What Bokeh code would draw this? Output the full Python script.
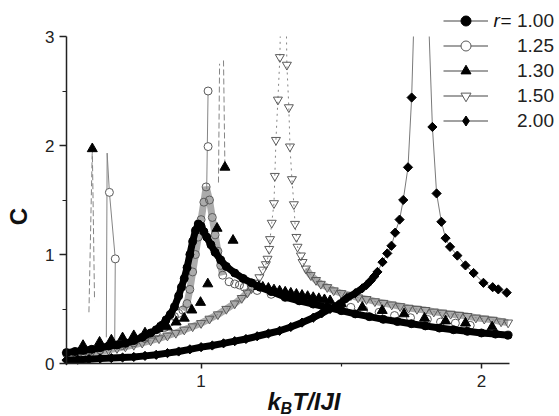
import numpy as np
from bokeh.plotting import figure
from bokeh.models import Range1d, FixedTicker, Legend, LegendItem, Label, LinearAxis
from bokeh.embed import file_html
from bokeh.resources import INLINE

# ---------------- data ----------------
x_ticks = [1, 2]
x_minor = [1.5]
y_ticks = [0, 1, 2, 3]
y_minor = [0.5, 1.5, 2.5]
x_lo, x_hi = 0.52, 2.1
y_lo, y_hi = 0.0, 3.0
series_labels = ["1.00", "1.25", "1.30", "1.50", "2.00"]

r100_x = [0.52, 0.55, 0.58, 0.61, 0.64, 0.67, 0.70, 0.73, 0.76, 0.79,
          0.82, 0.84, 0.86, 0.875, 0.89, 0.905, 0.92, 0.93, 0.94, 0.95,
          0.96, 0.97, 0.98, 0.99, 1.00, 1.01, 1.02, 1.035, 1.05, 1.07,
          1.09, 1.12, 1.15, 1.18, 1.21, 1.25, 1.30, 1.35, 1.40, 1.45,
          1.50, 1.55, 1.60, 1.65, 1.70, 1.75, 1.80, 1.85, 1.90, 1.95,
          2.00, 2.05, 2.095]
r100_y = [0.10, 0.11, 0.12, 0.13, 0.145, 0.16, 0.17, 0.185, 0.21, 0.24,
          0.28, 0.31, 0.35, 0.40, 0.45, 0.52, 0.62, 0.70, 0.78, 0.88,
          1.00, 1.12, 1.22, 1.28, 1.26, 1.21, 1.16, 1.09, 1.02, 0.95,
          0.89, 0.83, 0.78, 0.74, 0.70, 0.66, 0.61, 0.575, 0.545, 0.515,
          0.485, 0.455, 0.43, 0.405, 0.385, 0.365, 0.345, 0.325, 0.31, 0.295,
          0.28, 0.27, 0.26]

r125_x = [0.52, 0.56, 0.60, 0.64, 0.72, 0.76, 0.80, 0.84, 0.87, 0.89,
          0.905, 0.92, 0.935, 0.95, 0.96, 0.97, 0.98, 0.99, 1.00, 1.01,
          1.018, 1.03, 1.04, 1.05, 1.06, 1.07, 1.077, 1.10, 1.12, 1.137,
          1.154, 1.20, 1.25, 1.30, 1.35, 1.40, 1.45, 1.50, 1.534, 1.58,
          1.635, 1.69, 1.747, 1.807, 1.854, 1.907, 1.96]
r125_y = [0.09, 0.10, 0.11, 0.125, 0.165, 0.19, 0.23, 0.28, 0.33, 0.38,
          0.43, 0.46, 0.49, 0.55, 0.68, 0.84, 1.00, 1.16, 1.32, 1.48,
          1.62, 1.50, 1.34, 1.18, 1.03, 0.90, 0.81, 0.75, 0.73, 0.72,
          0.70, 0.67, 0.635, 0.605, 0.58, 0.56, 0.54, 0.525, 0.515, 0.49,
          0.47, 0.44, 0.42, 0.405, 0.38, 0.37, 0.35]
r125_out_x = [0.673, 0.694, 1.025, 1.025]
r125_out_y = [1.57, 0.96, 1.99, 2.50]
r125_spike_x = [0.662, 0.665, 0.673, 0.694, 0.692, np.nan, 1.020, 1.025]
r125_spike_y = [0.24, 1.93, 1.57, 0.96, 0.21, np.nan, 1.60, 2.50]

r130_x = [0.579, 0.612, 0.638, 0.68, 0.72, 0.76, 0.80, 0.846, 0.879, 0.911,
          0.94, 0.967, 0.998, 1.024, 1.057, 1.085, 1.114, 1.206, 1.22, 1.24,
          1.26, 1.28, 1.30, 1.32, 1.34, 1.36, 1.38, 1.40, 1.42, 1.44,
          1.46, 1.50, 1.575, 1.646, 1.724, 1.797, 1.872, 1.943, 2.038]
r130_y = [0.165, 1.97, 0.195, 0.215, 0.235, 0.255, 0.28, 0.32, 0.335, 0.38,
          0.415, 0.49, 0.56, 0.73, 1.24, 1.80, 1.13, 0.705, 0.70, 0.69,
          0.675, 0.665, 0.655, 0.645, 0.635, 0.625, 0.615, 0.605, 0.595, 0.585,
          0.575, 0.55, 0.515, 0.486, 0.455, 0.415, 0.39, 0.37, 0.335]
r130_spike_x = [0.600, 0.612, 0.620, np.nan, 1.062, 1.066, np.nan, 1.080, 1.085]
r130_spike_y = [0.47, 1.97, 0.58, np.nan, 1.66, 2.75, np.nan, 2.78, 1.80]

r150_x = [0.52, 0.55, 0.58, 0.61, 0.64, 0.67, 0.70, 0.73, 0.76, 0.79,
          0.82, 0.85, 0.88, 0.91, 0.94, 0.97, 1.00, 1.03, 1.06, 1.09,
          1.12, 1.145, 1.165, 1.18, 1.195, 1.208, 1.22, 1.231, 1.237, 1.243,
          1.246, 1.252, 1.26, 1.263, 1.267, 1.274, 1.281, 1.286,
          1.302, 1.306, 1.313, 1.317, 1.324, 1.331, 1.335, 1.340, 1.344, 1.356,
          1.362, 1.374, 1.391, 1.41, 1.427, 1.45, 1.473, 1.50, 1.534, 1.56,
          1.59, 1.62, 1.65, 1.68, 1.71, 1.74, 1.77, 1.80, 1.83, 1.86,
          1.89, 1.92, 1.95, 1.98, 2.01, 2.04, 2.07, 2.095]
r150_y = [0.075, 0.085, 0.09, 0.10, 0.11, 0.125, 0.14, 0.155, 0.17, 0.19,
          0.21, 0.23, 0.255, 0.28, 0.31, 0.34, 0.37, 0.41, 0.45, 0.50,
          0.55, 0.60, 0.65, 0.69, 0.74, 0.79, 0.86, 0.91, 0.96, 1.05,
          1.14, 1.29, 1.47, 1.72, 2.05, 2.42, 2.81, 3.50,
          3.50, 2.74, 2.35, 1.99, 1.69, 1.46, 1.28, 1.16, 1.07, 0.99,
          0.93, 0.87, 0.81, 0.765, 0.73, 0.70, 0.67, 0.645, 0.625, 0.605,
          0.59, 0.57, 0.555, 0.54, 0.525, 0.51, 0.50, 0.49, 0.475, 0.465,
          0.455, 0.445, 0.435, 0.42, 0.41, 0.40, 0.385, 0.375]

r200_x = [0.52, 0.56, 0.60, 0.64, 0.68, 0.72, 0.76, 0.80, 0.84, 0.88,
          0.92, 0.96, 1.00, 1.04, 1.08, 1.12, 1.16, 1.20, 1.24, 1.28,
          1.32, 1.36, 1.40, 1.43, 1.46, 1.49, 1.52, 1.55, 1.575, 1.59,
          1.605, 1.618, 1.629, 1.647, 1.664, 1.679, 1.692, 1.708, 1.721, 1.738,
          1.751, 1.763, 1.807, 1.825, 1.840, 1.857, 1.872, 1.888, 1.914, 1.943,
          1.972, 2.007, 2.04, 2.06, 2.09]
r200_y = [0.03, 0.035, 0.04, 0.045, 0.05, 0.055, 0.06, 0.07, 0.08, 0.095,
          0.11, 0.13, 0.15, 0.165, 0.185, 0.205, 0.225, 0.25, 0.275, 0.30,
          0.335, 0.375, 0.42, 0.46, 0.50, 0.54, 0.60, 0.645, 0.69, 0.72,
          0.76, 0.80, 0.84, 0.93, 1.01, 1.08, 1.20, 1.32, 1.50, 1.80,
          2.44, 3.50, 3.50, 2.17, 1.56, 1.30, 1.15, 1.07, 0.99, 0.90,
          0.83, 0.74, 0.70, 0.68, 0.65]

# ---------------- layout geometry (pixels) ----------------
W, H = 559, 416
PL, PR, PT, PB = 66, 50, 36, 53          # plot-area margins
kx = (x_hi - x_lo) / (W - PL - PR)       # data units per pixel
ky = (y_hi - y_lo) / (H - PT - PB)

FONT = "Liberation Sans"
p = figure(width=W, height=H, title=None,
           x_range=Range1d(x_lo - PL * kx, x_hi + PR * kx),
           y_range=Range1d(y_lo - PB * ky, y_hi + PT * ky),
           x_axis_location=None, y_axis_location=None,
           output_backend="svg", toolbar_location=None,
           min_border=0, min_border_left=0, min_border_right=0,
           min_border_top=0, min_border_bottom=0)
p.outline_line_color = None
p.grid.visible = False
p.background_fill_color = "white"
p.border_fill_color = "white"

xaxis = LinearAxis(fixed_location=y_lo, bounds=(x_lo, x_hi),
                   ticker=FixedTicker(ticks=x_ticks, minor_ticks=x_minor))
yaxis = LinearAxis(fixed_location=x_lo, bounds=(y_lo, y_hi),
                   ticker=FixedTicker(ticks=y_ticks, minor_ticks=y_minor))
p.add_layout(xaxis, "below")
p.add_layout(yaxis, "left")
for ax in (xaxis, yaxis):
    ax.axis_line_width = 1.5
    ax.axis_line_color = "#222222"
    ax.major_tick_line_color = "#222222"
    ax.minor_tick_line_color = "#222222"
    ax.major_tick_line_width = 1.5
    ax.minor_tick_line_width = 1.2
    ax.major_tick_in = 0
    ax.minor_tick_in = 0
    ax.major_label_text_font = FONT
    ax.major_label_text_font_size = "17px"
    ax.major_label_text_color = "#222222"
xaxis.major_tick_out = 5
xaxis.minor_tick_out = 3
yaxis.major_tick_out = 7
yaxis.minor_tick_out = 4
xaxis.major_label_standoff = 6
yaxis.major_label_standoff = 5


def clip_top(xs, ys, top=y_hi):
    """Cut a polyline where it leaves the plot area through its top edge."""
    xs = np.asarray(xs, float); ys = np.asarray(ys, float)
    ox, oy = [], []
    for i in range(len(xs)):
        if i > 0 and not (np.isnan(ys[i]) or np.isnan(ys[i - 1])):
            a_in, b_in = ys[i - 1] <= top, ys[i] <= top
            if a_in != b_in:
                t = (top - ys[i - 1]) / (ys[i] - ys[i - 1])
                ox.append(xs[i - 1] + t * (xs[i] - xs[i - 1])); oy.append(top)
                if not b_in:
                    ox.append(np.nan); oy.append(np.nan)
        if np.isnan(ys[i]) or ys[i] <= top:
            ox.append(xs[i]); oy.append(ys[i])
    return np.array(ox), np.array(oy)


def inside(xs, ys):
    xs = np.asarray(xs, float); ys = np.asarray(ys, float)
    m = ys <= y_hi
    return xs[m], ys[m]


GRAY = "#5a5a5a"
BAND = "#ababab"
THIN = "#858585"
a = lambda v: np.array(v, dtype=float)

# r = 1.50 : open inverted triangles
x150, y150 = a(r150_x), a(r150_y)
band150 = np.where((x150 <= 1.20) | (x150 >= 1.37), y150, np.nan)
p.line(x150, band150, line_color=BAND, line_width=7)
lx, ly = clip_top(x150, y150)
p.line(lx, ly, line_color=THIN, line_width=1, line_dash="2 4")
mx, my = inside(x150, y150)
p.scatter(mx, my, marker="inverted_triangle", size=9,
          fill_alpha=0, line_color=GRAY, line_width=1)

# r = 1.25 : open circles
x125, y125 = a(r125_x), a(r125_y)
band125 = np.where((x125 >= 0.935) & (x125 <= 1.08), y125, np.nan)
p.line(x125, band125, line_color=BAND, line_width=7)
p.line(a(r125_spike_x), a(r125_spike_y), line_color=THIN, line_width=1)
p.scatter(x125, y125, marker="circle", size=8, fill_alpha=0,
          line_color=GRAY, line_width=1)
p.scatter(a(r125_out_x), a(r125_out_y), marker="circle", size=8,
          fill_color="white", line_color=GRAY, line_width=1)

# r = 2.00 : filled diamonds
x200, y200 = a(r200_x), a(r200_y)
lx, ly = clip_top(x200, y200)
p.line(lx, ly, line_color="#7a7a7a", line_width=1)
band200 = np.where(x200 <= 1.58, y200, np.nan)
p.line(x200, band200, line_color="black", line_width=7)
mx, my = inside(x200, y200)
p.scatter(mx, my, marker="square", angle=np.pi / 4, size=6.5,
          fill_color="black", line_color="black")

# r = 1.00 : filled circles
x100, y100 = a(r100_x), a(r100_y)
p.line(x100, y100, line_color="black", line_width=7)
p.scatter(x100, y100, marker="circle", size=8, fill_color="black",
          line_color="black")

# r = 1.30 : filled triangles
p.line(a(r130_spike_x), a(r130_spike_y), line_color=THIN,
       line_width=1, line_dash="6 3")
p.scatter(a(r130_x), a(r130_y), marker="triangle", size=10,
          fill_color="black", line_color="black")

# ---------------- legend ----------------
nan1 = [np.nan]
leg_specs = [
    dict(marker="circle", size=10, fill_color="black", line_color="black"),
    dict(marker="circle", size=9, fill_color="white", line_color=GRAY),
    dict(marker="triangle", size=11, fill_color="black", line_color="black"),
    dict(marker="inverted_triangle", size=11, fill_color="white", line_color=GRAY),
    dict(marker="diamond", size=17, fill_color="black", line_color="black"),
]
items = []
for lab_text, spec in zip(series_labels, leg_specs):
    ln = p.line(nan1, nan1, line_color="#444444", line_width=1.2)
    mk = p.scatter(nan1, nan1, **spec)
    items.append(LegendItem(label=lab_text, renderers=[ln, mk]))

legend = Legend(items=items, location=(443, H - 133),
                glyph_width=45, glyph_height=25, label_height=20,
                spacing=0, padding=0, margin=0, label_standoff=29,
                label_text_font=FONT, label_text_font_size="19px",
                label_text_color="#222222",
                background_fill_alpha=0, border_line_alpha=0)
p.add_layout(legend)


def lab(text, x, y, size, style="normal", align="left", baseline="alphabetic", angle=0):
    # x, y : pixels from the left / top of the picture
    p.add_layout(Label(x=x, y=H - y, x_units="screen", y_units="screen", text=text,
                       text_font=FONT, text_font_size=size, text_font_style=style,
                       text_align=align, text_baseline=baseline, angle=angle,
                       text_color="#111111"))


lab("r", 493, 20, "19px", style="italic", baseline="middle")
lab("=", 500, 20, "19px", baseline="middle")

# axis titles
lab("C", 18, 216, "24px", style="bold", align="center", baseline="middle", angle=np.pi / 2)
lab("k", 267, 401, "24px", style="bold italic")
lab("B", 280, 408, "16px", style="bold italic")
lab("T/IJI", 292, 401, "24px", style="bold italic")

open("out.html", "w").write(file_html(p, INLINE))
